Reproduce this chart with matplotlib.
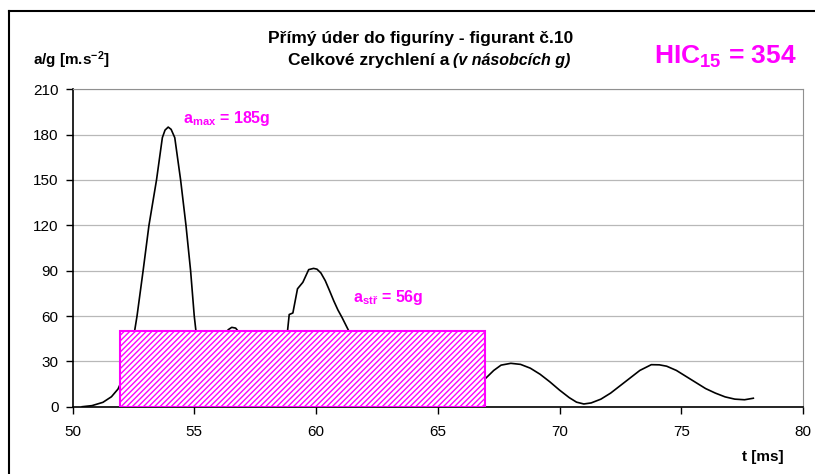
import matplotlib
matplotlib.use("Agg")
import matplotlib.pyplot as plt
from matplotlib.patches import Rectangle
from matplotlib.lines import Line2D

# průběh celkového zrychlení
t_ms = [50.4, 50.8, 51.25, 51.6, 51.87, 52.1, 52.35, 52.55, 52.65, 52.9, 53.14, 53.45,
        53.69, 53.8, 53.93, 54.05, 54.2, 54.44, 54.66, 54.85, 55.0, 55.07, 55.4,
        55.8, 56.2, 56.4, 56.54, 56.7, 56.9, 57.5, 58.3, 58.83, 58.9, 59.05, 59.24,
        59.46, 59.7, 59.9, 60.04, 60.2, 60.38, 60.55, 60.73, 60.9, 61.07, 61.35,
        62.5, 64.0, 65.5,
        66.95, 67.3, 67.6, 68.0, 68.4, 68.8, 69.2, 69.6, 70.0, 70.4, 70.7, 71.0,
        71.3, 71.7, 72.1, 72.5, 72.9, 73.3, 73.77, 74.1, 74.4, 74.8, 75.2, 75.6,
        76.0, 76.4, 76.8, 77.2, 77.6, 77.96]
a_g = [0.0, 0.7, 2.9, 6.6, 11.7, 20, 35, 50, 60, 90, 120, 150,
       178, 183, 185, 183.5, 178, 150, 120, 90, 60, 50, 36,
       38, 47, 51, 52.5, 52, 48, 40, 40, 50, 61, 62, 78,
       82.3, 90.7, 91.5, 91, 88.5, 83.4, 77, 70, 64, 59, 50,
       36, 30, 25,
       18.5, 24, 27.5, 28.7, 28, 25.5, 21.5, 16.5, 11, 6, 3, 1.8,
       2.5, 5, 9, 14, 19, 24, 27.8, 27.7, 26.8, 24, 20, 16,
       12, 9, 6.5, 5, 4.6, 5.6]

rect_t = (51.95, 66.95)
rect_a = 50
x_ticks = [50, 55, 60, 65, 70, 75, 80]
y_ticks = [0, 30, 60, 90, 120, 150, 180, 210]

MAG = "#ff00ff"
plt.rcParams["font.family"] = ["Liberation Sans", "DejaVu Sans"]
plt.rcParams["mathtext.fontset"] = "custom"
plt.rcParams["mathtext.rm"] = "Liberation Sans:bold"
plt.rcParams["mathtext.bf"] = "Liberation Sans:bold"
plt.rcParams["mathtext.it"] = "Liberation Sans:bold:italic"
plt.rcParams["hatch.linewidth"] = 1.0
plt.rcParams["hatch.color"] = MAG

fig = plt.figure(figsize=(8.15, 4.74), dpi=100)
W, H = 815, 474
ax = fig.add_axes([72.5 / W, 1 - 406.7 / H, (803 - 72.5) / W, (406.7 - 89.3) / H])

ax.plot(t_ms, a_g, color="black", lw=1.2, zorder=2)
ax.add_patch(Rectangle((rect_t[0], 0), rect_t[1] - rect_t[0], rect_a,
                       facecolor="white", edgecolor=MAG, hatch="//////",
                       lw=1.5, zorder=3))

ax.set_xlim(50, 80)
ax.set_ylim(0, 210)
ax.set_xticks(x_ticks)
ax.set_yticks(y_ticks)
ax.tick_params(direction="out", length=5, width=1, labelsize=11)
ax.tick_params(axis="x", pad=8)
ax.tick_params(axis="y", pad=5)
ax.yaxis.grid(True, color="#b8b8b8", lw=0.9)
ax.set_axisbelow(True)
for s in ("top", "right"):
    ax.spines[s].set_color("#909090")
for s in ("left", "bottom"):
    ax.spines[s].set_linewidth(1.2)

ax.text(54.54, 188, r"a$_{\mathrm{max}}$ = 185g", color=MAG, fontsize=11.5,
        fontweight="bold", va="baseline")
ax.text(61.52, 69.5, r"a$_{\mathrm{stř}}$ = 56g", color=MAG, fontsize=11.5,
        fontweight="bold", va="baseline")

fig.text(421 / W, 1 - 38 / H, "Přímý úder do figuríny - figurant č.10",
         ha="center", va="center", fontsize=12.5, fontweight="bold")
fig.text(449 / W, 1 - 61 / H, "Celkové zrychlení a", ha="right", va="center",
         fontsize=12.5, fontweight="bold")
fig.text(453 / W, 1 - 61 / H, "(v násobcích g)", ha="left", va="center",
         fontsize=11.5, fontweight="bold", style="italic")
fig.text(71 / W, 1 - 60 / H, r"a/g [m.s$^{\mathrm{-2}}$]", ha="center", va="center",
         fontsize=11, fontweight="bold")
fig.text(725 / W, 1 - 57 / H, r"HIC$_{\mathrm{15}}$ = 354", ha="center", va="center",
         fontsize=19, fontweight="bold", color=MAG)
fig.text(763 / W, 1 - 457 / H, "t [ms]", ha="center", va="center",
         fontsize=11, fontweight="bold")

# vnější rámeček grafu
fig.add_artist(Line2D([8.5 / W, 8.5 / W], [1 - 10.5 / H, 0], color="black", lw=1.5))
fig.add_artist(Line2D([8.5 / W, 1], [1 - 10.5 / H, 1 - 10.5 / H], color="black", lw=1.5))

fig.savefig("out.png", dpi=100)
